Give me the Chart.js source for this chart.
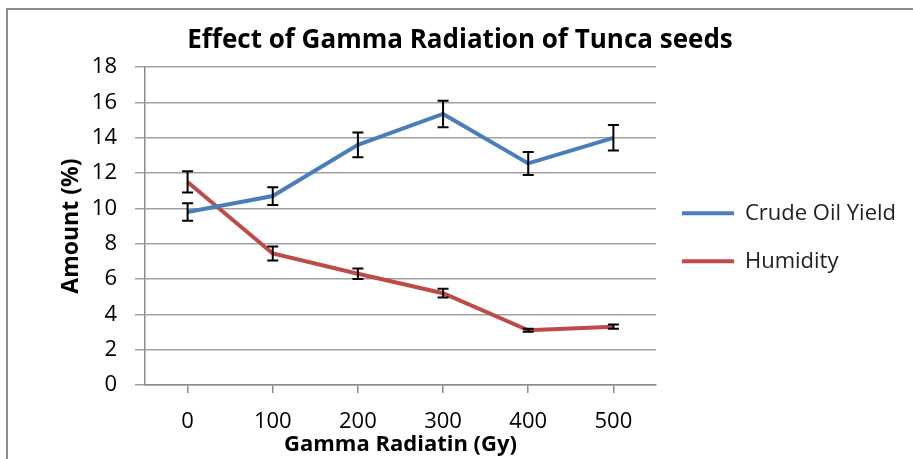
<!DOCTYPE html>
<html>
<head>
<meta charset="utf-8">
<script src="https://cdn.jsdelivr.net/npm/chart.js@4/dist/chart.umd.min.js"></script>
<style>
  html, body { margin: 0; padding: 0; background: #fff; overflow: hidden; }
  #frame { position: absolute; left: 6px; top: 8px; width: 1000px; height: 1000px; border: 2px solid #8c8c8c; }
  #wrap { position: absolute; left: 0; top: 0; width: 913px; height: 459px; }
</style>
</head>
<body>
<div id="frame"></div>
<div id="wrap"><canvas id="chart" width="913" height="459"></canvas></div>
<script>
// chart data
const doses = ['0', '100', '200', '300', '400', '500'];
const crudeOil = [9.8, 10.7, 13.6, 15.35, 12.55, 14.0];
const crudeOilErr = [0.5, 0.5, 0.7, 0.75, 0.65, 0.72];
const humidity = [11.5, 7.45, 6.3, 5.2, 3.1, 3.3];
const humidityErr = [0.6, 0.4, 0.3, 0.25, 0.08, 0.12];

const FONT = "'Open Sans', 'Noto Sans', sans-serif";

// draws vertical error bars with caps on top of the lines
const errorBars = {
  id: 'errorBars',
  afterDatasetsDraw(chart) {
    const ctx = chart.ctx;
    const y = chart.scales.y;
    ctx.save();
    ctx.strokeStyle = '#000';
    ctx.lineWidth = 2;
    chart.data.datasets.forEach((ds, i) => {
      const meta = chart.getDatasetMeta(i);
      meta.data.forEach((pt, j) => {
        const e = ds.errors[j];
        const v = ds.data[j];
        const top = y.getPixelForValue(v + e);
        const bot = y.getPixelForValue(v - e);
        const x = pt.x;
        ctx.beginPath();
        ctx.moveTo(x, top); ctx.lineTo(x, bot);
        ctx.moveTo(x - 5.5, top); ctx.lineTo(x + 5.5, top);
        ctx.moveTo(x - 5.5, bot); ctx.lineTo(x + 5.5, bot);
        ctx.stroke();
      });
    });
    ctx.restore();
  }
};

new Chart(document.getElementById('chart'), {
  type: 'line',
  data: {
    labels: doses,
    datasets: [
      { label: 'Crude Oil Yield', data: crudeOil, errors: crudeOilErr,
        borderColor: '#4a7ebb', backgroundColor: '#4a7ebb', borderWidth: 4,
        pointRadius: 0, tension: 0 },
      { label: 'Humidity', data: humidity, errors: humidityErr,
        borderColor: '#be4b48', backgroundColor: '#be4b48', borderWidth: 4,
        pointRadius: 0, tension: 0 }
    ]
  },
  options: {
    responsive: false,
    animation: false,
    layout: { padding: { left: 14, top: 0, right: 7, bottom: 0 } },
    plugins: {
      title: {
        display: true,
        text: 'Effect of Gamma Radiation of Tunca seeds',
        color: '#000',
        font: { family: FONT, size: 26, weight: 'bold' },
        padding: { top: 25, bottom: 11 }
      },
      legend: {
        position: 'right',
        maxWidth: 256,
        title: { display: true, text: ' ', padding: 0, font: { family: FONT, size: 13 } },
        labels: {
          color: '#000',
          font: { family: FONT, size: 22 },
          boxWidth: 52,
          boxHeight: 4,
          padding: 26,
          generateLabels(chart) {
            return chart.data.datasets.map((ds, i) => ({
              text: ds.label, fillStyle: ds.borderColor, strokeStyle: ds.borderColor,
              lineWidth: 0, hidden: false, datasetIndex: i, fontColor: '#222'
            }));
          }
        }
      },
      tooltip: { enabled: false }
    },
    scales: {
      x: {
        offset: true,
        afterFit(s) { s.height = 74; },
        grid: { drawOnChartArea: false, drawTicks: true, tickLength: 8, color: '#8c8c8c', lineWidth: 1.5 },
        border: { color: '#8c8c8c', width: 1.5 },
        ticks: { color: '#000', font: { family: FONT, size: 22 }, padding: 16, maxRotation: 0 },
        title: { display: true, text: 'Gamma Radiatin (Gy)', color: '#000',
          font: { family: FONT, size: 22, weight: 'bold' }, padding: 1 }
      },
      y: {
        min: 0, max: 18,
        afterFit(s) { s.width = 131; },
        grid: { color: '#a0a0a0', lineWidth: 1.5, drawTicks: true, tickLength: 10 },
        border: { color: '#8c8c8c', width: 1.5 },
        ticks: { stepSize: 2, color: '#000', font: { family: FONT, size: 22 }, padding: 18 },
        title: { display: true, text: 'Amount (%)', color: '#000',
          font: { family: FONT, size: 23, weight: 'bold' }, padding: 44 }
      }
    }
  },
  plugins: [errorBars]
});
</script>
</body>
</html>
